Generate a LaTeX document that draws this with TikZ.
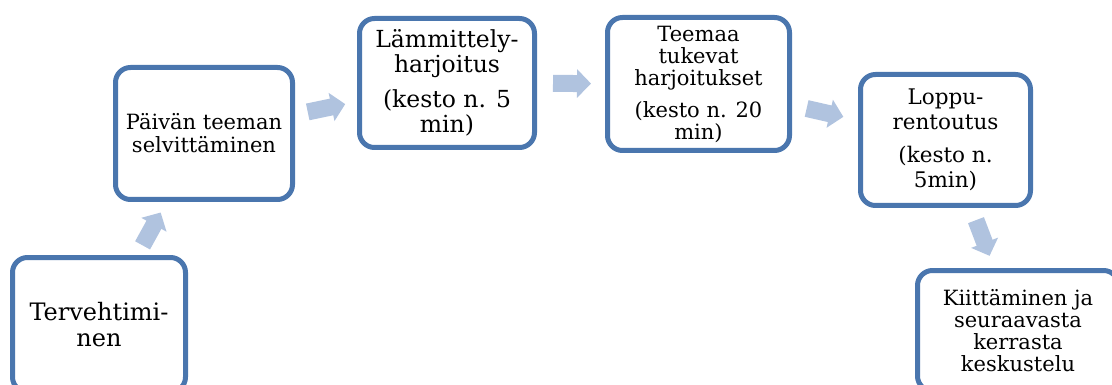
\documentclass[tikz,border=0pt]{standalone}
\usepackage{fontspec}
\setmainfont{DejaVu Serif}
\usepackage{xcolor}
\usetikzlibrary{arrows.meta}
\definecolor{frame}{HTML}{4A76AE}
\definecolor{flow}{HTML}{B0C3DF}

\begin{document}
\begin{tikzpicture}[x=1pt, y=-1pt,
  box/.style={draw=frame, line width=5pt, rounded corners=15pt, fill=white, align=center, inner sep=4pt},
  arr/.style={draw=flow, line width=17pt, -{Triangle[length=14pt, width=28pt]}}]
  \useasboundingbox (0,0) rectangle (1112,385);
  \clip (0,0) rectangle (1112,385);
  % stages of the lesson
  \node[box, font=\fontsize{24}{26}\selectfont, minimum width=173pt, minimum height=134.5pt] (greet) at (99,324.75) {Tervehtimi-\\nen};
  \node[box, font=\fontsize{21}{23}\selectfont, minimum width=177pt, minimum height=132pt] (theme) at (204,133.5) {Päivän teeman\\selvittäminen};
  \node[box, font=\fontsize{23.5}{25.5}\selectfont, minimum width=175pt, minimum height=129pt] (warmup) at (447,83) {Lämmittely-\\harjoitus\\[9pt](kesto n. 5\\min)};
  \node[box, font=\fontsize{21}{22}\selectfont, minimum width=182pt, minimum height=133pt] (drills) at (698.5,84) {Teemaa\\tukevat\\harjoitukset\\[10pt](kesto n. 20\\min)};
  \node[box, font=\fontsize{21.5}{25}\selectfont, minimum width=170pt, minimum height=131pt] (cooldown) at (945.5,140) {Loppu-\\rentoutus\\[8pt](kesto n.\\5min)};
  \node[box, font=\fontsize{21}{22}\selectfont, minimum width=201pt, minimum height=120.5pt] (thanks) at (1018,330.75) {Kiittäminen ja\\seuraavasta\\kerrasta\\keskustelu};
  % block arrows
  \draw[arr, shorten <=11pt, shorten >=12pt] (greet) -- (theme);
  \draw[arr, shorten <=13pt, shorten >=12pt] (theme) -- (warmup);
  \draw[arr, shorten <=16pt, shorten >=14pt] (warmup) -- (drills);
  \draw[arr, shorten <=15pt, shorten >=15pt] (drills) -- (cooldown);
  \draw[arr, shorten <=13pt, shorten >=13pt] (cooldown) -- (thanks);
\end{tikzpicture}
\end{document}
